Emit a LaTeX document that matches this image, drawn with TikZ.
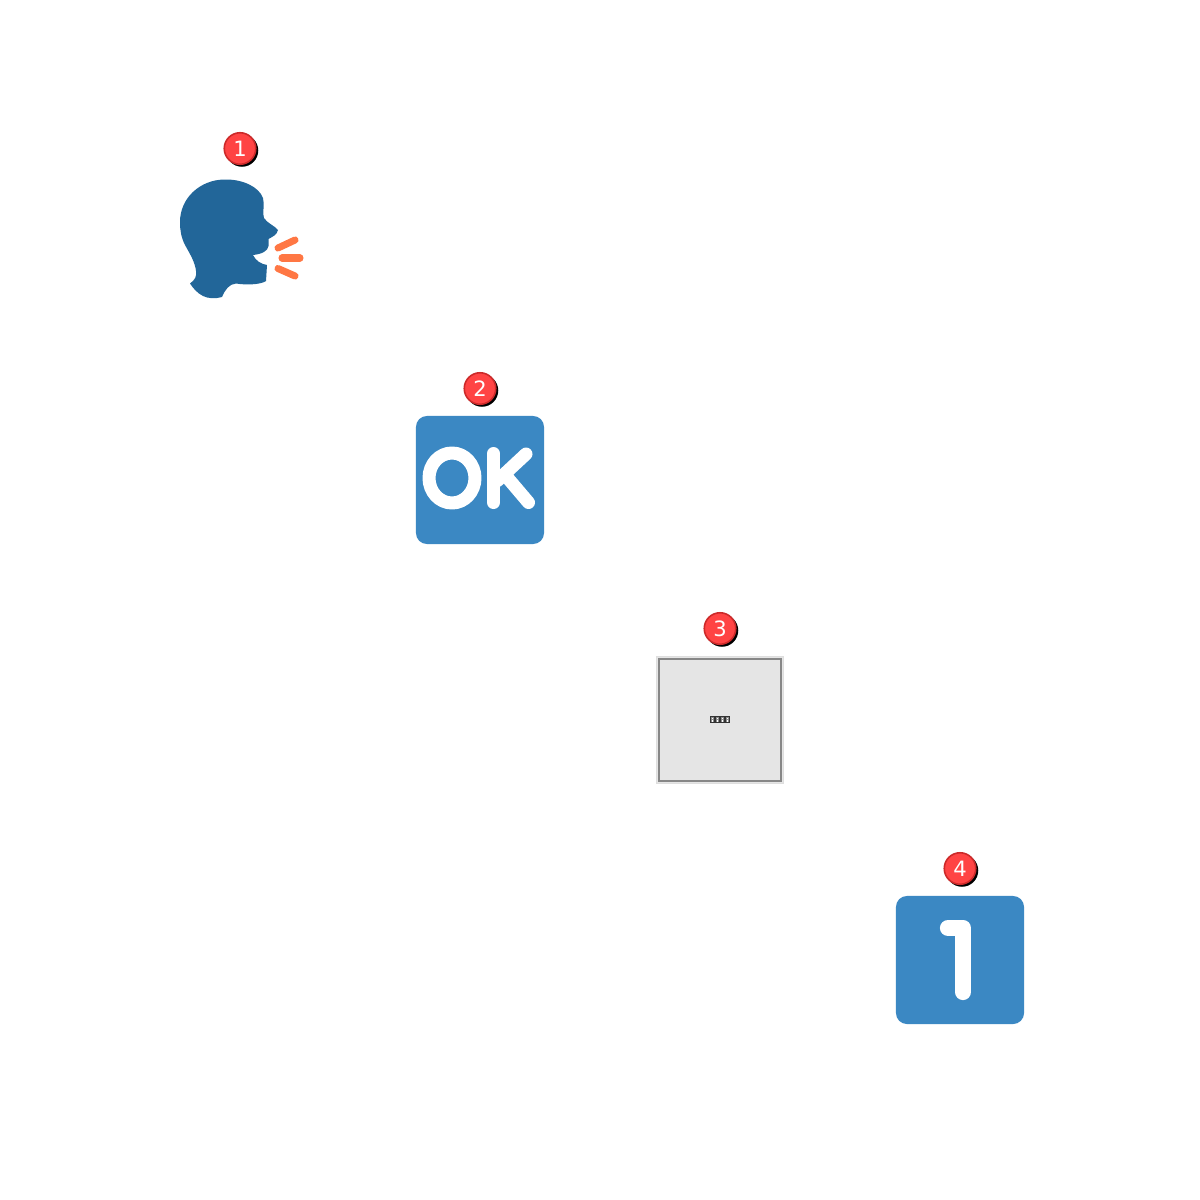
\documentclass[tikz,border=0pt]{standalone}
\usepackage{xcolor}
\usepackage{fontspec}
\usepackage{tikz}
\setsansfont{DejaVu Sans}
\definecolor{headblue}{HTML}{226699}
\definecolor{tileblue}{HTML}{3B88C3}
\definecolor{speechorange}{HTML}{FF7744}
\definecolor{badgered}{HTML}{FF4444}
\definecolor{badgeborder}{HTML}{CC2A2A}
\tikzset{
    badge/.style={circle, draw=badgeborder, line width=0.45pt, fill=badgered, minimum size=0.315cm, inner sep=0pt, text=white, font=\sffamily\fontsize{6}{6}\selectfont},
    badgeshadow/.style={circle, fill=black, minimum size=0.325cm, inner sep=0pt},
    tile/.style={rounded corners=0.11cm, fill=tileblue, minimum size=1.28cm, inner sep=0pt},
    glyph/.style={white, line width=3.7pt, line cap=round, line join=round},
    speech/.style={speechorange, line width=2pt, line cap=round}
}

\begin{document}
\begin{tikzpicture}[x=0.01cm, y=-0.01cm]
    \useasboundingbox (0,0) rectangle (1200,1200);

    % Speaking head
    \fill[headblue] (224,179.5) .. controls (243,179) and (259,187) .. (263,198)
        .. controls (265,205) and (262,213) .. (264,218)
        .. controls (267,223) and (275,226) .. (278,230)
        .. controls (277,235) and (272,237) .. (268.5,239)
        -- (268.5,246) .. controls (268,251) and (262,254) .. (253,255)
        .. controls (256,261) and (261,264) .. (267,265)
        -- (266,281) .. controls (260,285) and (245,285) .. (236,283.5)
        .. controls (229,284) and (225,290) .. (222,297)
        .. controls (215,299) and (208,298.5) .. (203,296)
        .. controls (197,293) and (193,288) .. (190,283.5)
        .. controls (195,280) and (197,276) .. (196,271)
        .. controls (195,262) and (190,254) .. (185,245)
        .. controls (181,237) and (180,230) .. (180,222)
        .. controls (180,198) and (200,180) .. (224,179.5) -- cycle;
    \draw[speech] (278,248) -- (295,240);
    \draw[speech] (282,258) -- (300,258);
    \draw[speech] (278,268.5) -- (295,276);
    \node[badgeshadow] (shadowone) at (242,150.5) {};
    \node[badge] (badgeone) at (240,148.5) {1};

    % OK tile
    \node[tile] (oktile) at (480,480) {};
    \draw[glyph] (452,478) ellipse (23 and 25);
    \draw[glyph] (493.5,453.5) -- (493.5,502.5);
    \draw[glyph] (526,454) -- (497,481);
    \draw[glyph] (506,476) -- (528.5,502.5);
    \node[badgeshadow] (shadowtwo) at (482,390.5) {};
    \node[badge] (badgetwo) at (480,388.5) {2};

    % Missing picture
    \node[draw=black!13, line width=0.3pt, fill=black!10, minimum size=1.27cm, inner sep=0pt] (graybox) at (720,720) {};
    \draw[black!47, line width=0.7pt] (659,659) rectangle (781,781);
    \fill[black!80] (710,716) rectangle (730,723);
    \foreach \x in {712.5,717.5,722.5,727.5} {
        \fill[black!45] (\x-1.5,717) rectangle (\x+1.5,722);
        \fill[white] (\x-0.8,717.6) rectangle (\x+0.8,719);
        \fill[white] (\x-0.8,720.2) rectangle (\x+0.8,721.6);
    }
    \node[badgeshadow] (shadowthree) at (722,630.5) {};
    \node[badge] (badgethree) at (720,628.5) {3};

    % Number tile
    \node[tile] (numbertile) at (960,960) {};
    \draw[glyph, line width=4.6pt] (948,928) -- (963,928) -- (963,992);
    \node[badgeshadow] (shadowfour) at (962,870.5) {};
    \node[badge] (badgefour) at (960,868.5) {4};
\end{tikzpicture}
\end{document}
